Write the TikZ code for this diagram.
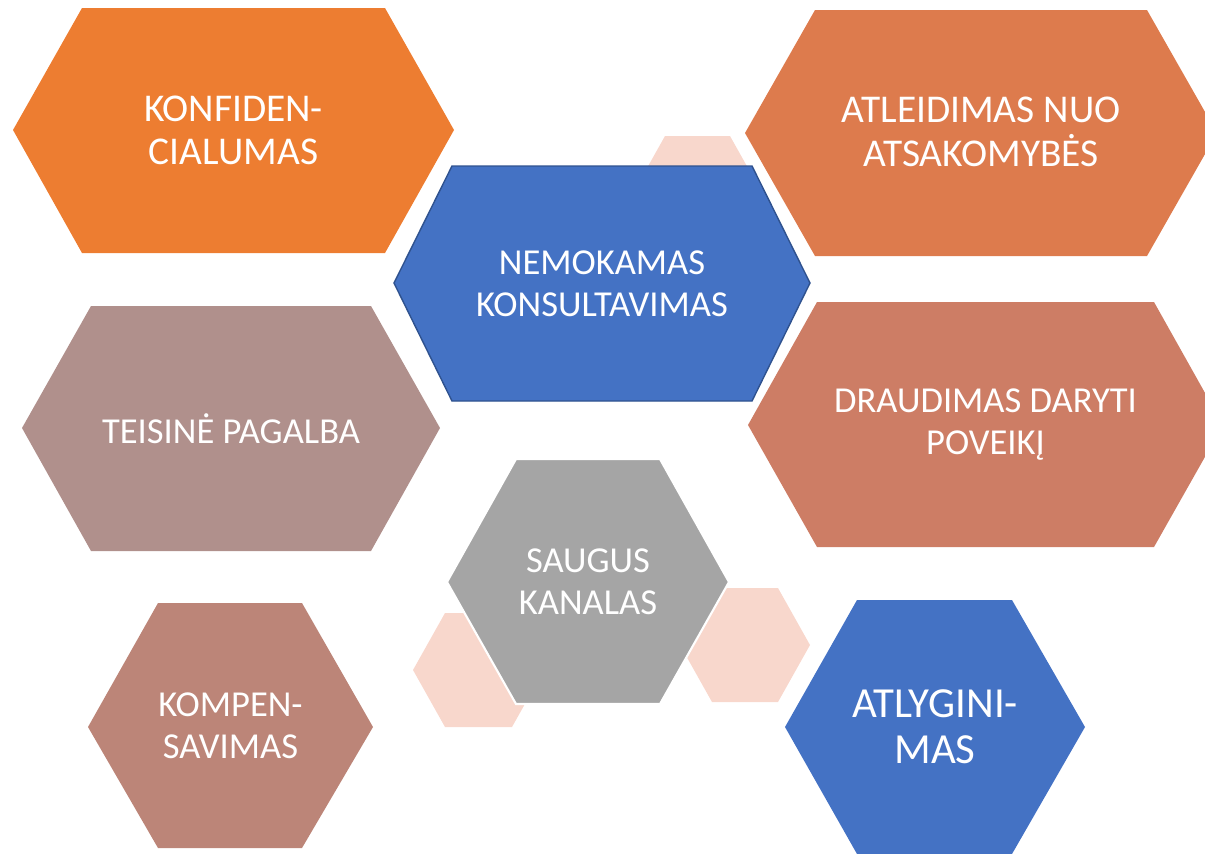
\documentclass[tikz,border=0pt]{standalone}
\usepackage{fontspec}
\setmainfont{Carlito}
\definecolor{hxorange}{RGB}{237,125,49}
\definecolor{hxrust}{RGB}{221,123,77}
\definecolor{hxclay}{RGB}{205,125,101}
\definecolor{hxmauve}{RGB}{176,144,140}
\definecolor{hxrose}{RGB}{188,133,120}
\definecolor{hxblue}{RGB}{68,114,196}
\definecolor{hxblueedge}{RGB}{47,82,143}
\definecolor{hxgray}{RGB}{165,165,165}
\definecolor{hxpink}{RGB}{248,215,204}

\begin{document}
\begin{tikzpicture}[
    x=0.25mm, y=-0.25mm,
    deco/.style={fill=hxpink},
    hexa/.style={fill=#1},
    lbl/.style={text=white, align=center, inner sep=0pt, font=\fontsize{26}{30}\selectfont},
    lblbig/.style={lbl, font=\fontsize{28}{31}\selectfont},
    lblhuge/.style={lbl, font=\fontsize{30.5}{33}\selectfont},
  ]
  \clip (0,0) rectangle (1205,853);

  %% ---------------- pale hexagons in the background ----------------
  \fill[deco] (633,193) -- (665,136) -- (730,136) -- (762,193) -- (730,250) -- (665,250) -- cycle;
  \fill[deco] (413,670) -- (445,613) -- (512,613) -- (544,670) -- (512,727) -- (445,727) -- cycle;
  \fill[deco] (680,645) -- (712,588) -- (778,588) -- (810,645) -- (778,702) -- (712,702) -- cycle;

  %% ---------------- left column ----------------
  \fill[hexa=hxorange] (13,130) -- (82,8) -- (385,8) -- (454,130) -- (385,253) -- (82,253) -- cycle;
  \node[lblbig] (konf) at (233.5,130.5) {KONFIDEN-\\CIALUMAS};

  \fill[hexa=hxmauve] (22,428) -- (91,306) -- (371,306) -- (440,428) -- (371,551) -- (91,551) -- cycle;
  \node[lbl] (teis) at (231,428.5) {TEISINĖ PAGALBA};

  \fill[hexa=hxrose] (88,727) -- (158,603) -- (302,603) -- (373,727) -- (302,848) -- (158,848) -- cycle;
  \node[lbl] (komp) at (230.5,725.5) {KOMPEN-\\SAVIMAS};

  %% ---------------- right column ----------------
  \fill[hexa=hxrust] (745,133) -- (815,10) -- (1147,10) -- (1217,133) -- (1147,256) -- (815,256) -- cycle;
  \node[lblbig] (atleid) at (981,132) {ATLEIDIMAS NUO\\ATSAKOMYBĖS};

  \fill[hexa=hxclay] (748,425) -- (817,302) -- (1154,302) -- (1223,425) -- (1154,547) -- (817,547) -- cycle;
  \node[lbl] (draud) at (985.5,424.5) {DRAUDIMAS DARYTI\\POVEIKĮ};

  \fill[hexa=hxblue] (785,727) -- (857,600) -- (1012,600) -- (1085,727) -- (1012,854) -- (857,854) -- cycle;
  \node[lblhuge] (atlyg) at (935,727) {ATLYGINI-\\MAS};

  %% ---------------- middle ----------------
  \fill[hexa=hxblue, draw=hxblueedge, line width=1pt]
    (394,283) -- (452,166) -- (752,166) -- (810,283) -- (752,401) -- (452,401) -- cycle;
  \node[lbl] (nemok) at (602,284) {NEMOKAMAS\\KONSULTAVIMAS};

  \fill[hexa=hxgray, draw=white, line width=1.5pt]
    (447,582) -- (516,459) -- (660,459) -- (729,582) -- (660,704) -- (516,704) -- cycle;
  \node[lbl] (saug) at (588,581.5) {SAUGUS\\KANALAS};

\end{tikzpicture}
\end{document}
